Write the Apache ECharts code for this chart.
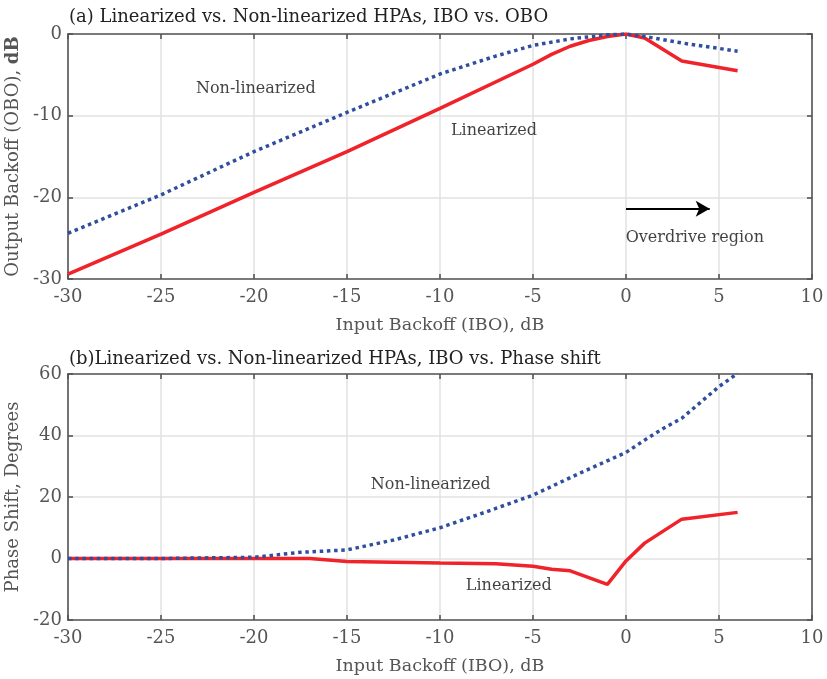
<!DOCTYPE html>
<html>
<head>
<meta charset="utf-8">
<script src="https://cdn.jsdelivr.net/npm/echarts@6/dist/echarts.min.js"></script>
<style>
  html, body { margin: 0; padding: 0; background: #fff; }
  #chart { width: 827px; height: 679px; }
</style>
</head>
<body>
<div id="chart"></div>
<script>
// (a) IBO vs OBO
const oboLinX = [-30, -25, -20, -15, -10, -5, -4, -3, -2, -1, 0, 1, 3, 6];
const oboLinY = [-29.4, -24.5, -19.4, -14.4, -9.1, -3.7, -2.5, -1.5, -0.8, -0.3, 0, -0.5, -3.3, -4.5];
const oboNonX = [-30, -25, -20, -15, -10, -7, -5, -3, -1, 0, 1, 3, 6];
const oboNonY = [-24.4, -19.7, -14.4, -9.6, -4.9, -2.7, -1.4, -0.6, -0.1, 0, -0.3, -1.1, -2.1];

// (b) IBO vs phase shift
const phLinX = [-30, -25, -20, -17, -15, -10, -7, -5, -4, -3, -1, 0, 1, 3, 6];
const phLinY = [0, 0, 0, 0, -1.0, -1.5, -1.7, -2.5, -3.5, -4.0, -8.4, -0.8, 5, 12.8, 15];
const phNonX = [-30, -25, -20, -17.5, -15, -12.5, -10, -7.5, -5, -2.5, 0, 1, 2, 3, 5, 6];
const phNonY = [0, 0, 0.4, 2, 2.8, 6, 10, 15.2, 20.6, 27.7, 34.5, 38.5, 42.3, 45.6, 55.9, 60.2];

// annotation text positions (data coords)
const notesA = [
  { text: 'Non-linearized', x: -19.9, y: -6.7 },
  { text: 'Linearized', x: -7.1, y: -11.8 },
  { text: 'Overdrive region', x: 3.7, y: -24.9 }
];
const arrowA = [[0, -21.4], [4.5, -21.4]];
const notesB = [
  { text: 'Non-linearized', x: -10.5, y: 23.9 },
  { text: 'Linearized', x: -6.3, y: -8.9 }
];

const FONT = 'DejaVu Serif';
const RED = '#f0222a';
const BLUE = '#2f4e9e';
const AXIS = '#555';
const DOTS = [3.5, 3.7];

const zip = (xs, ys) => xs.map((x, i) => [x, ys[i]]);

function xAx(grid, main) {
  return {
    type: 'value', gridIndex: grid, min: -30, max: 10, interval: 5,
    position: main ? 'bottom' : 'top',
    name: main ? 'Input Backoff (IBO), dB' : '',
    nameLocation: 'middle', nameGap: 37,
    nameTextStyle: { fontFamily: FONT, fontSize: 17.5, color: '#555' },
    axisLine: { onZero: false, lineStyle: { color: AXIS, width: 1.6 } },
    axisTick: { inside: true, length: 5, lineStyle: { color: AXIS, width: 1.6 } },
    axisLabel: { show: main, fontFamily: FONT, fontSize: 18, color: '#555', margin: 9 },
    splitLine: { show: main, lineStyle: { color: '#e2e2e2', width: 1.5 } }
  };
}
function yAx(grid, main, min, max, interval, name) {
  return {
    type: 'value', gridIndex: grid, min: min, max: max, interval: interval,
    position: main ? 'left' : 'right',
    name: main ? name : '',
    nameLocation: 'middle', nameGap: 41,
    nameTextStyle: { fontFamily: FONT, fontSize: 18, color: '#555',
      rich: { b: { fontFamily: FONT, fontSize: 18, fontWeight: 'bold', color: '#555' } } },
    axisLine: { onZero: false, lineStyle: { color: AXIS, width: 1.6 } },
    axisTick: { inside: true, length: 5, lineStyle: { color: AXIS, width: 1.6 } },
    axisLabel: { show: main, fontFamily: FONT, fontSize: 18, color: '#555', margin: 6 },
    splitLine: { show: main, lineStyle: { color: '#e2e2e2', width: 1.5 } }
  };
}

function textSeries(xi, yi, notes) {
  return {
    type: 'scatter', xAxisIndex: xi, yAxisIndex: yi, symbolSize: 0, silent: true,
    data: notes.map(n => ({ value: [n.x, n.y], name: n.text })),
    label: { show: true, position: 'inside', formatter: p => p.name,
      fontFamily: FONT, fontSize: 16, color: '#111' },
    z: 5
  };
}

const chart = echarts.init(document.getElementById('chart'));
chart.setOption({
  animation: false,
  title: [
    { text: '(a) Linearized vs. Non-linearized HPAs, IBO vs. OBO', left: 64, top: 3,
      textStyle: { fontFamily: FONT, fontSize: 18, fontWeight: 'normal', color: '#222' } },
    { text: '(b)Linearized vs. Non-linearized HPAs, IBO vs. Phase shift', left: 64, top: 345,
      textStyle: { fontFamily: FONT, fontSize: 18, fontWeight: 'normal', color: '#222' } }
  ],
  grid: [
    { left: 68, right: 15, top: 34, height: 245, outerBoundsMode: 'none' },
    { left: 68, right: 15, top: 374, height: 246, outerBoundsMode: 'none' }
  ],
  xAxis: [xAx(0, true), xAx(0, false), xAx(1, true), xAx(1, false)],
  yAxis: [
    yAx(0, true, -30, 0, 10, 'Output Backoff (OBO), {b|dB}'),
    yAx(0, false, -30, 0, 10, ''),
    yAx(1, true, -20, 60, 20, 'Phase Shift, Degrees'),
    yAx(1, false, -20, 60, 20, '')
  ],
  series: [
    { type: 'line', xAxisIndex: 0, yAxisIndex: 0, data: zip(oboNonX, oboNonY), showSymbol: false,
      lineStyle: { color: BLUE, width: 3.5, type: DOTS, cap: 'butt' }, z: 3 },
    { type: 'line', xAxisIndex: 0, yAxisIndex: 0, data: zip(oboLinX, oboLinY), showSymbol: false,
      lineStyle: { color: RED, width: 3.5 }, z: 2,
      markLine: { silent: true, symbol: ['none', 'arrow'], symbolSize: [12, 14],
        lineStyle: { color: '#000', width: 2, type: 'solid' }, label: { show: false },
        data: [[{ coord: arrowA[0] }, { coord: arrowA[1] }]] } },
    { type: 'line', xAxisIndex: 2, yAxisIndex: 2, data: zip(phLinX, phLinY), showSymbol: false,
      lineStyle: { color: RED, width: 3.5 }, z: 2 },
    { type: 'line', xAxisIndex: 2, yAxisIndex: 2, data: zip(phNonX, phNonY), showSymbol: false,
      lineStyle: { color: BLUE, width: 3.5, type: DOTS, cap: 'butt' }, z: 3 },
    textSeries(0, 0, notesA),
    textSeries(2, 2, notesB)
  ]
});
</script>
</body>
</html>
